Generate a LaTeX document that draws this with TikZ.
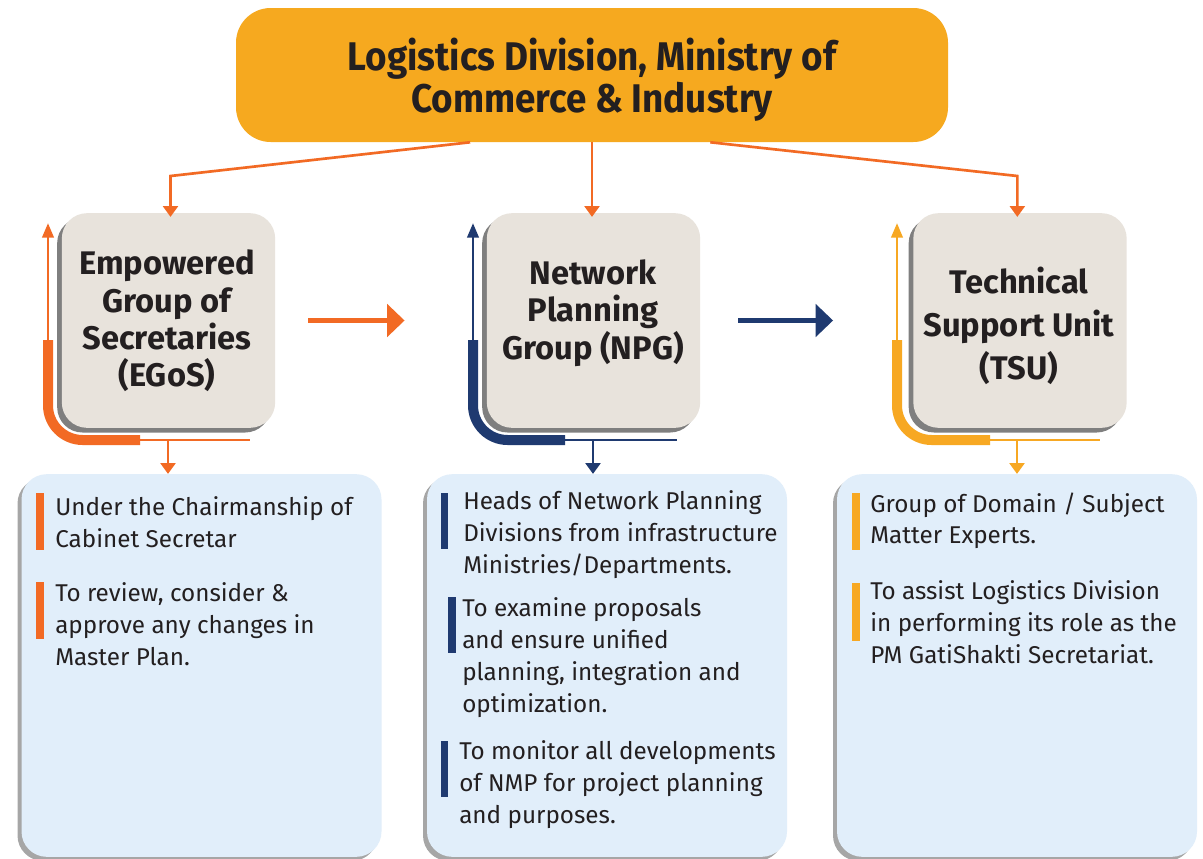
\documentclass[tikz,border=0pt]{standalone}
\usepackage{fontspec}
\setmainfont{Fira Sans}
\newfontfamily\titlefont{Fira Sans}[FakeStretch=0.92]
\usetikzlibrary{arrows.meta,shadows,calc}
\definecolor{cOr}{HTML}{F26A24}
\definecolor{cNv}{HTML}{1F3A70}
\definecolor{cYl}{HTML}{F7A823}
\definecolor{cTop}{HTML}{F6A91F}
\definecolor{cGrey}{HTML}{E8E3DC}
\definecolor{cBlue}{HTML}{E1EEFA}
\definecolor{cTxt}{HTML}{231F20}
\tikzset{
  topbox/.style={fill=cTop, rounded corners=26pt, minimum width=534pt, minimum height=100.5pt, inner sep=0pt},
  greybox/.style={fill=cGrey, rounded corners=19pt, minimum width=160pt, minimum height=161pt, inner sep=0pt,
    drop shadow={shadow xshift=-3.5pt, shadow yshift=-3.5pt, fill=black, opacity=0.5}},
  bluebox/.style={fill=cBlue, rounded corners=19pt, minimum width=270pt, minimum height=287pt, inner sep=0pt,
    drop shadow={shadow xshift=-3pt, shadow yshift=-3pt, fill=black, opacity=0.35}},
  gtitle/.style={font=\bfseries\fontsize{24.5}{28}\selectfont, text=cTxt, align=center, inner sep=0pt},
  item/.style={anchor=base west, inner sep=0pt, text=cTxt, font=\fontsize{18.2}{24}\selectfont},
  conn/.style={draw=cOr, line width=2pt, -{Triangle[width=11pt,length=8pt]}},
  thin/.style={line width=2.2pt},
  thick/.style={line width=7.5pt},
  uptip/.style={-{Triangle[width=8.5pt,length=11pt]}},
  downtip/.style={-{Triangle[width=11pt,length=8pt]}},
  harrow/.style={line width=3.75pt, -{Triangle[width=24pt,length=13pt]}},
}
\begin{document}
\begin{tikzpicture}[x=0.75pt,y=-0.75pt]
\useasboundingbox[fill=white] (0,0) rectangle (1203,858);

% bottom boxes
\node[bluebox] (egd) at (201.5,665.5) {};
\node[bluebox] (npd) at (607,665.5) {};
\node[bluebox] (tsd) at (1017,665.5) {};

% top box
\node[topbox] (top) at (592,75) {};
\node[text=cTxt, align=center, inner sep=0pt, font=\titlefont\bfseries\fontsize{30}{31.5}\selectfont] (toptext) at (592,80)
  {Logistics Division, Ministry of\\Commerce \& Industry};

% brackets (drawn before grey boxes)
% EGoS
\draw[cOr, thin, uptip] (48,342) -- (48,223);
\draw[cOr, thick, rounded corners=26pt] (48,340) -- (48,440) -- (140,440);
\draw[cOr, thin] (139,440) -- (250,440);
% NPG
\draw[cNv, thin, uptip] (473,342) -- (473,223);
\draw[cNv, thick, rounded corners=26pt] (473,340) -- (473,440) -- (565,440);
\draw[cNv, thin] (564,440) -- (677,440);
% TSU
\draw[cYl, thin, uptip] (897,342) -- (897,223);
\draw[cYl, thick, rounded corners=26pt] (897,340) -- (897,440) -- (990,440);
\draw[cYl, thin] (989,440) -- (1100,440);

% grey boxes
\node[greybox] (eg) at (168.5,320.5) {};
\node[greybox] (np) at (593.5,320.5) {};
\node[greybox] (ts) at (1020,320.5) {};
\node[gtitle] (egt) at (167,321) {Empowered\\Group of\\Secretaries\\(EGoS)};
\node[gtitle] (npt) at (593,313) {Network\\Planning\\Group (NPG)};
\node[gtitle, font=\bfseries\fontsize{24.5}{32}\selectfont] (tst) at (1019,326) {Technical\\Support Unit\\(TSU)};

% connectors from top
\coordinate (tl) at ($(top.south west)!0.329!(top.south east)$);
\coordinate (tr) at ($(top.south west)!0.666!(top.south east)$);
\draw[conn] (tl) -- ([xshift=1.5pt]eg.north |- 0,176) -- ([xshift=1.5pt,yshift=-3pt]eg.north);
\draw[conn] (top.south) -- ([yshift=-3pt]np.north -| top.south);
\draw[conn] (tr) -- ([xshift=-2pt]ts.north |- 0,176) -- ([xshift=-2pt,yshift=-3pt]ts.north);

% down arrows to bottom boxes
\coordinate (egb) at (168,440);
\coordinate (npb) at (593,440);
\coordinate (tsb) at (1017,440);
\draw[cOr, thin, downtip] (egb) -- (egd.north -| egb);
\draw[cNv, thin, downtip] (npb) -- (npd.north -| npb);
\draw[cYl, thin, downtip] (tsb) -- (tsd.north -| tsb);

% horizontal arrows
\draw[cOr, harrow] ([xshift=24.75pt]eg.east) -- ([xshift=-61.5pt]np.west);
\draw[cNv, harrow] ([xshift=28.5pt]np.east) -- ([xshift=-60pt]ts.west);

% bars
\fill[cOr] (36,493) rectangle (44,550);
\fill[cOr] (36,582) rectangle (44,639);
\fill[cNv] (441,493) rectangle (448,549);
\fill[cNv] (448,597) rectangle (456,653);
\fill[cNv] (441,741) rectangle (448,797);
\fill[cYl] (852,493) rectangle (860,550);
\fill[cYl] (852,583) rectangle (860,641);

% EGoS items
\node[item] (e1) at (55,515) {Under the Chairmanship of};
\node[item] (e2) at (55,547) {Cabinet Secretar};
\node[item] (e3) at (55,601) {To review, consider \&};
\node[item] (e4) at (55,633) {approve any changes in};
\node[item] (e5) at (55,665) {Master Plan.};
% NPG items
\node[item] (n1) at (463,509) {Heads of Network Planning};
\node[item] (n2) at (463,541) {Divisions from infrastructure};
\node[item] (n3) at (463,573) {Ministries/Departments.};
\node[item] (n4) at (462,616) {To examine proposals};
\node[item] (n5) at (462,648) {and ensure unified};
\node[item] (n6) at (462,680) {planning, integration and};
\node[item] (n7) at (462,712) {optimization.};
\node[item] (n8) at (459,759) {To monitor all developments};
\node[item] (n9) at (459,791) {of NMP for project planning};
\node[item] (n10) at (459,823) {and purposes.};
% TSU items
\node[item] (t1) at (870,512) {Group of Domain / Subject};
\node[item] (t2) at (870,543) {Matter Experts.};
\node[item] (t3) at (870,599) {To assist Logistics Division};
\node[item] (t4) at (870,631) {in performing its role as the};
\node[item] (t5) at (870,663) {PM GatiShakti Secretariat.};
\end{tikzpicture}
\end{document}
